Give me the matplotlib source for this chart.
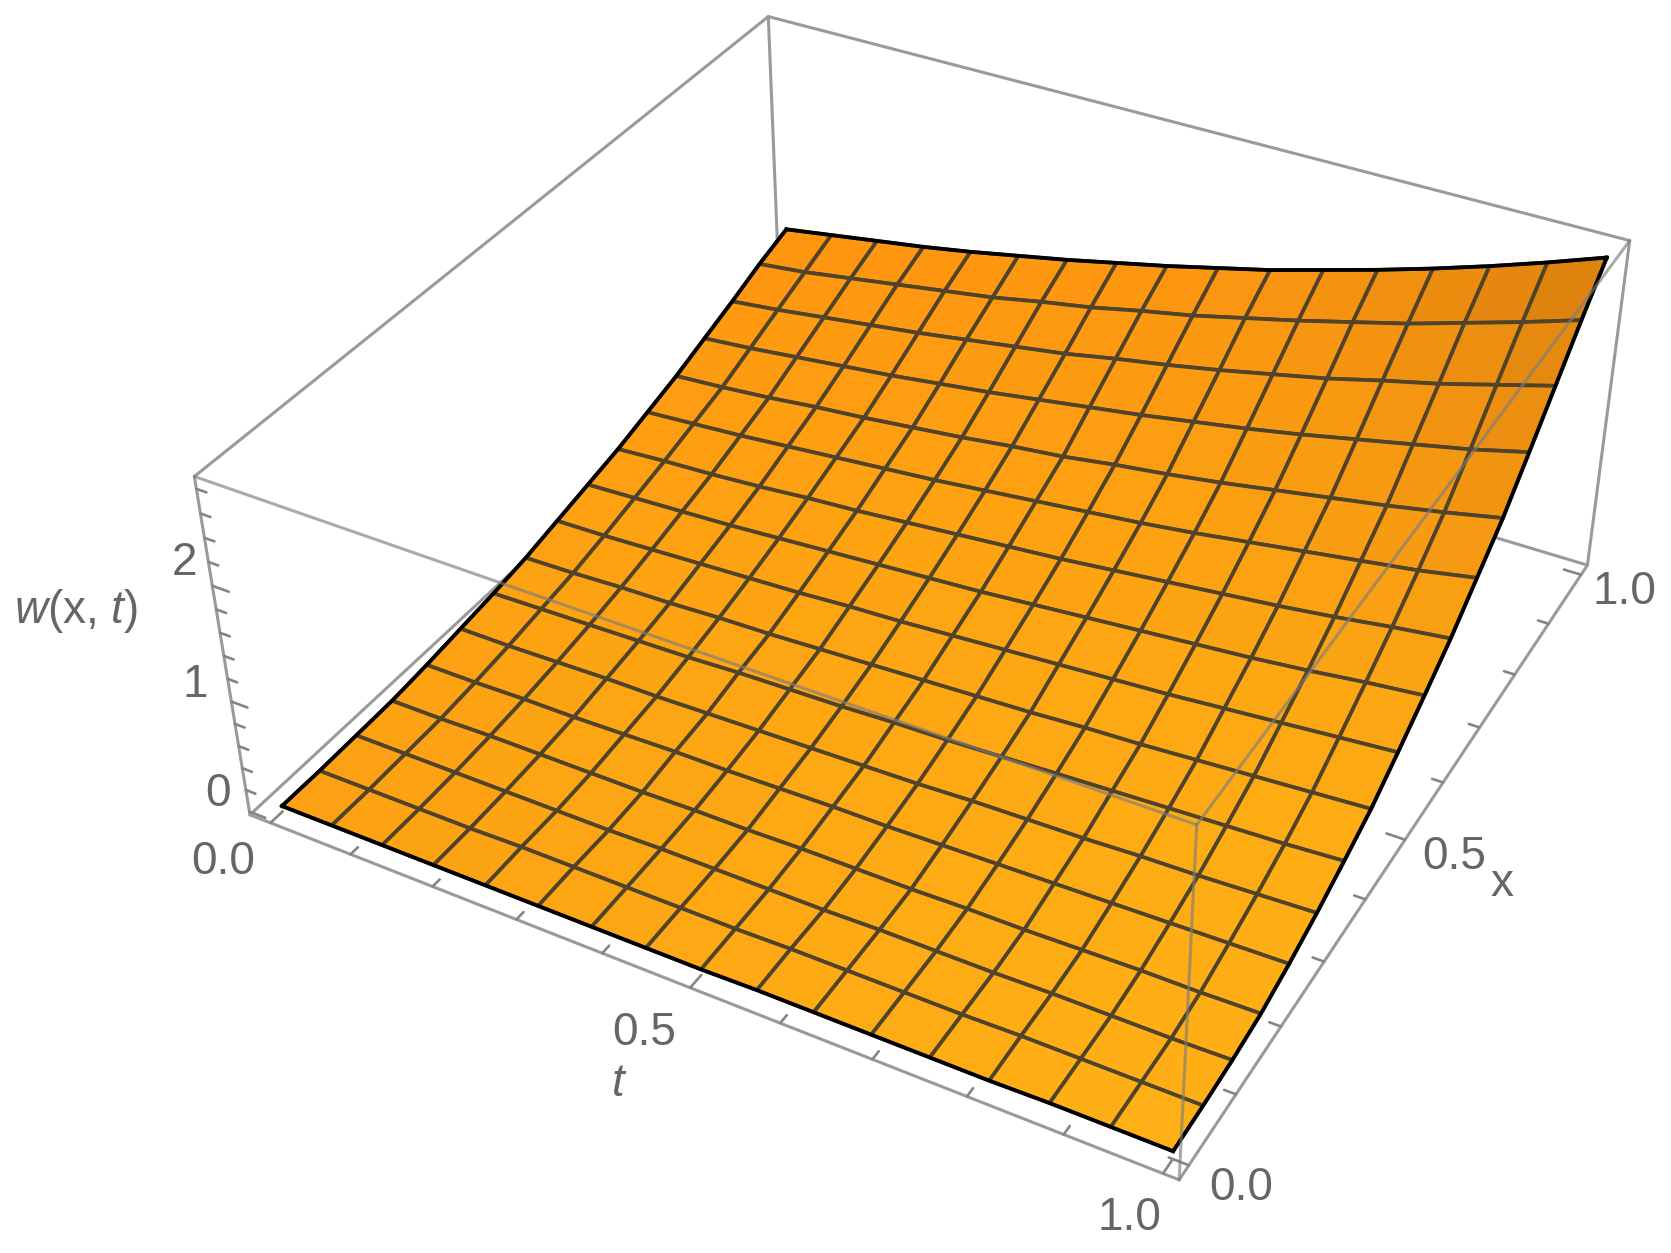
import numpy as np
import matplotlib
matplotlib.use('Agg')
import matplotlib.pyplot as plt

plt.rcParams['font.family'] = 'Liberation Sans'
plt.rcParams['mathtext.fontset'] = 'custom'
plt.rcParams['mathtext.it'] = 'Liberation Sans:italic'
plt.rcParams['mathtext.rm'] = 'Liberation Sans'

# mesh node positions
t_nodes = [i / 16 for i in range(17)]
x_nodes = [i / 16 for i in range(17)]

w_rows = [
    [.02, .02, .02, .02, .02, .02, .02, .02, .02, .03, .03, .03, .03, .03, .04, .04, .04],
    [.02, .02, .02, .02, .03, .03, .03, .03, .03, .04, .04, .04, .04, .05, .05, .05, .05],
    [.03, .03, .03, .03, .03, .03, .04, .04, .04, .04, .05, .05, .05, .06, .06, .06, .07],
    [.04, .04, .05, .05, .05, .05, .06, .06, .07, .07, .07, .08, .08, .09, .10, .10, .11],
    [.07, .07, .08, .08, .09, .10, .10, .11, .12, .12, .13, .14, .15, .16, .17, .18, .19],
    [.11, .11, .12, .13, .13, .14, .15, .16, .17, .18, .20, .21, .22, .24, .25, .27, .29],
    [.15, .16, .17, .18, .19, .21, .22, .23, .25, .26, .28, .30, .32, .34, .36, .38, .41],
    [.20, .21, .23, .24, .26, .27, .29, .31, .33, .35, .37, .40, .42, .45, .48, .51, .54],
    [.27, .28, .30, .32, .34, .36, .39, .41, .44, .47, .50, .53, .56, .60, .64, .68, .72],
    [.34, .36, .38, .40, .43, .46, .49, .52, .55, .59, .63, .67, .71, .75, .80, .86, .91],
    [.41, .44, .46, .49, .53, .56, .60, .64, .68, .72, .77, .82, .87, .92, .98, 1.05, 1.11],
    [.50, .53, .56, .60, .64, .68, .72, .77, .82, .87, .92, .98, 1.05, 1.12, 1.19, 1.26, 1.35],
    [.59, .62, .66, .71, .75, .80, .85, .91, .96, 1.03, 1.09, 1.16, 1.24, 1.32, 1.40, 1.49, 1.59],
    [.70, .74, .79, .84, .89, .95, 1.01, 1.08, 1.15, 1.22, 1.30, 1.38, 1.47, 1.57, 1.67, 1.77, 1.89],
    [.81, .86, .92, .98, 1.04, 1.11, 1.18, 1.25, 1.34, 1.42, 1.51, 1.61, 1.71, 1.83, 1.94, 2.07, 2.20],
    [.93, .98, 1.05, 1.12, 1.19, 1.26, 1.35, 1.43, 1.53, 1.62, 1.73, 1.84, 1.96, 2.08, 2.22, 2.36, 2.51],
    [1.03, 1.10, 1.17, 1.24, 1.32, 1.41, 1.50, 1.60, 1.70, 1.81, 1.92, 2.05, 2.18, 2.32, 2.47, 2.63, 2.80],
]

t_ticks = [i / 10 for i in range(11)]
x_ticks = [i / 10 for i in range(11)]
z_ticks = [i / 5 for i in range(15)]
t_labels = [0.0, 0.5, 1.0]
x_labels = [0.0, 0.5, 1.0]
z_labels = [0, 1, 2]

T0, T1 = -0.026, 1.016
X0, X1 = -0.02, 1.02
Z0, Z1 = -0.03, 2.9

GREY = '#9a9a9a'
TICK = '#858585'
TEXT = '#666666'

fig = plt.figure(figsize=(16.71, 12.53), dpi=100)
H = 16.71 / 12.53
ax = fig.add_axes([89.6 / 1671, (1 - H) / 2 + 79.5 / 1253, 1.0, H], projection='3d', computed_zorder=False)
ax.set_proj_type('persp', focal_length=0.3818)
ax.view_init(elev=36.155, azim=-61.01, roll=0.367)
ax.set_box_aspect((1, 1, 0.403), zoom=0.8693)
ax.set_xlim(T0, T1, view_margin=0)
ax.set_ylim(X0, X1, view_margin=0)
ax.set_zlim(Z0, Z1, view_margin=0)
ax.set_xticks([])
ax.set_yticks([])
ax.set_zticks([])
ax.set_axis_off()

T, X = np.meshgrid(t_nodes, x_nodes)
W = np.array(w_rows)

# orange, getting darker only close to the high corner
c00 = np.array([0.988, 0.627, 0.075])
c10 = np.array([1.000, 0.690, 0.086])
c01 = np.array([1.000, 0.584, 0.063])
c11 = np.array([1.000, 0.600, 0.070])
dark = np.array([0.863, 0.506, 0.055])
tc = (T[:-1, :-1] + T[1:, 1:])[..., None] / 2
xc = (X[:-1, :-1] + X[1:, 1:])[..., None] / 2
face = (c00 * (1 - tc) * (1 - xc) + c10 * tc * (1 - xc)
        + c01 * (1 - tc) * xc + c11 * tc * xc)
face[..., 1] += 0.025 * (4 * xc * (1 - xc))[..., 0]
mix = np.clip(1.2 * (tc * xc) ** 4, 0, 1)
face = face * (1 - mix) + dark * mix

def edge(p, q, z, **kw):
    ax.plot([p[0], q[0]], [p[1], q[1]], [p[2], q[2]], color=kw.pop('color', GREY),
            lw=kw.pop('lw', 2.2), zorder=z, solid_capstyle='round', **kw)

# box edges behind the surface
edge((T0, X0, Z0), (T1, X0, Z0), 1)
edge((T1, X0, Z0), (T1, X1, Z0), 1)
edge((T1, X1, Z0), (T0, X1, Z0), 1)
edge((T0, X1, Z0), (T0, X0, Z0), 1)
edge((T0, X0, Z0), (T0, X0, Z1), 1)
edge((T1, X1, Z0), (T1, X1, Z1), 1)
edge((T0, X1, Z0), (T0, X1, Z1), 1)
edge((T0, X0, Z1), (T0, X1, Z1), 1)
edge((T0, X1, Z1), (T1, X1, Z1), 1)

# ticks
for v in t_ticks:
    ln = 0.02 if v in t_labels else 0.012
    edge((v, X0, Z0), (v, X0 + ln, Z0), 1, color=TICK, lw=1.9)
for v in x_ticks:
    ln = 0.02 if v in x_labels else 0.012
    edge((T1, v, Z0), (T1 - ln, v, Z0), 1, color=TICK, lw=1.9)
for v in z_ticks:
    ln = 0.02 if v in z_labels else 0.012
    edge((T0, X0, v), (T0 + ln, X0, v), 1, color=TICK, lw=1.9)

ax.plot_surface(T, X, W, facecolors=face, shade=False, rstride=1, cstride=1,
                edgecolor='#50432a', linewidth=2.7, antialiased=True, zorder=2)

# black outline of the surface
for xs, ys, zs in [(T[0], X[0], W[0]), (T[-1], X[-1], W[-1]),
                   (T[:, 0], X[:, 0], W[:, 0]), (T[:, -1], X[:, -1], W[:, -1])]:
    ax.plot(xs, ys, zs, color='black', lw=2.7, zorder=3)

# box edges in front, seen through the surface
edge((T0, X0, Z1), (T1, X0, Z1), 4, alpha=0.65, color='#7d7d7d')
edge((T1, X0, Z0), (T1, X0, Z1), 4, alpha=0.65, color='#7d7d7d')
edge((T1, X0, Z1), (T1, X1, Z1), 4, alpha=0.65, color='#7d7d7d')

# tick labels and axis labels
fs = 33
kw = dict(color=TEXT, fontsize=fs, ha='center', va='center', zorder=5)
for v, tp, xp in zip(t_labels, [-0.005, 0.494, 0.997], [-0.09, -0.092, -0.082]):
    ax.text(tp, xp, Z0, f'{v:.1f}', **kw)
for v, xp in zip(x_labels, [-0.003, 0.5, 0.993]):
    ax.text(1.069, xp, Z0, f'{v:.1f}', **kw)
for v, tp, zp in zip(z_labels, [-0.065, -0.07, -0.057], [0.05, 1.03, 2.11]):
    ax.text(tp, X0, zp, str(v), **kw)
ax.text(0.51, -0.159, Z0, r'$\mathit{t}$', **kw)
ax.text(1.125, 0.485, Z0, 'x', **kw)
ax.text(-0.215, X0, 1.30, r'$\mathit{w}$(x, $\mathit{t}$)', **kw)

fig.savefig('out.png', dpi=100)
